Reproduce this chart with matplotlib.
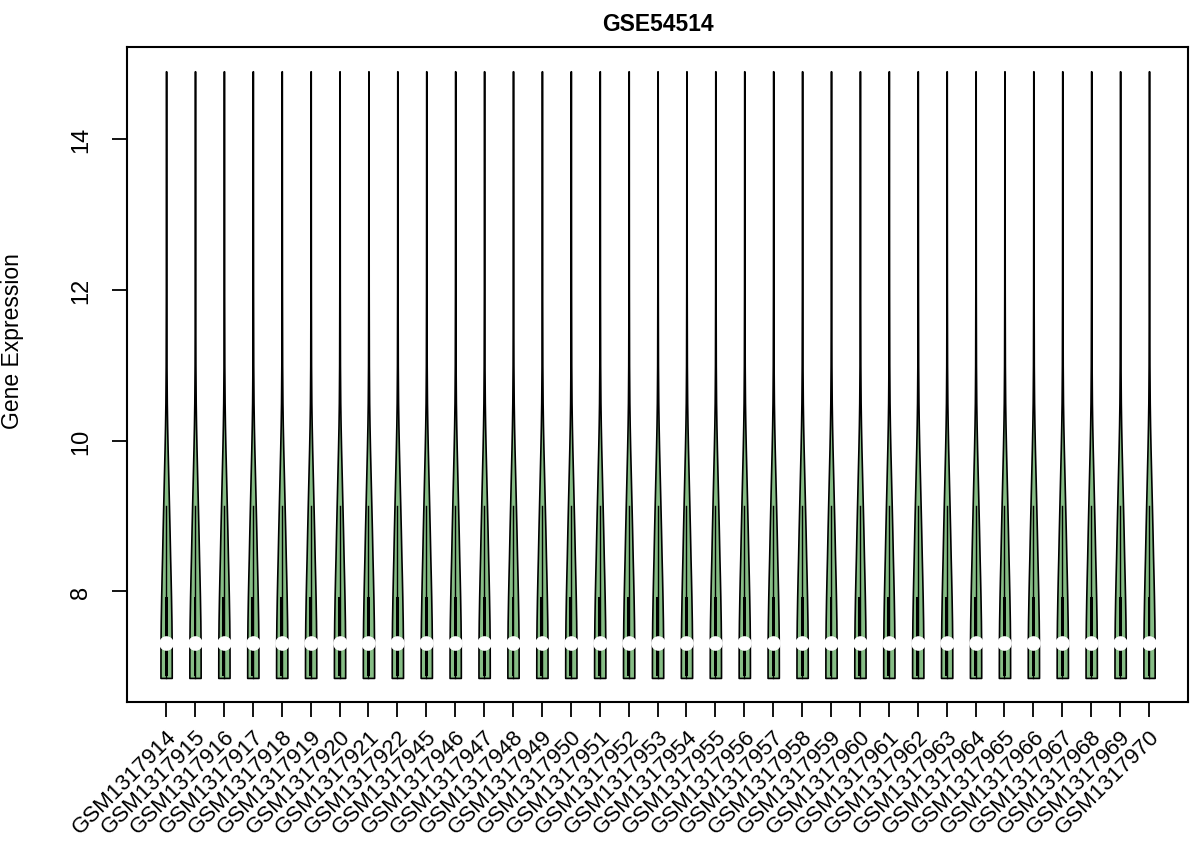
import matplotlib
matplotlib.use('Agg')
import matplotlib.pyplot as plt
from matplotlib.patches import Rectangle
import numpy as np

plt.rcParams['font.family'] = ['Liberation Sans', 'DejaVu Sans']

# sample names (GSE54514)
samples = ['GSM1317914', 'GSM1317915', 'GSM1317916', 'GSM1317917', 'GSM1317918',
           'GSM1317919', 'GSM1317920', 'GSM1317921', 'GSM1317922', 'GSM1317945',
           'GSM1317946', 'GSM1317947', 'GSM1317948', 'GSM1317949', 'GSM1317950',
           'GSM1317951', 'GSM1317952', 'GSM1317953', 'GSM1317954', 'GSM1317955',
           'GSM1317956', 'GSM1317957', 'GSM1317958', 'GSM1317959', 'GSM1317960',
           'GSM1317961', 'GSM1317962', 'GSM1317963', 'GSM1317964', 'GSM1317965',
           'GSM1317966', 'GSM1317967', 'GSM1317968', 'GSM1317969', 'GSM1317970']

# density profile (normalised data -> same for every sample)
dens_y = [6.85, 7.0, 7.3, 7.6, 7.93, 8.2, 8.44, 8.8, 9.13, 9.5, 9.9, 10.2,
          10.5, 11.0, 12.0, 13.0, 14.0, 14.9]
dens_w = [0.195, 0.195, 0.193, 0.185, 0.17, 0.155, 0.14, 0.12, 0.1, 0.077, 0.052,
          0.036, 0.024, 0.014, 0.008, 0.006, 0.005, 0.004]

# summary stats
q1 = [6.87] * len(samples)
q3 = [7.93] * len(samples)
med = [7.31] * len(samples)
wlo = [6.85] * len(samples)
whi = [9.13] * len(samples)

yticks = [8, 10, 12, 14]

fig = plt.figure(figsize=(11.96, 8.45), dpi=100)
ax = fig.add_axes([0.106, 0.168, 0.8876, 0.775])

n = len(samples)
pos = np.arange(1, n + 1)
y = np.array(dens_y)
w = np.array(dens_w)
for i in range(n):
    ax.fill_betweenx(y, pos[i] - w, pos[i] + w, facecolor='#86bd85',
                     edgecolor='black', linewidth=1.2, zorder=2)
    ax.plot([pos[i], pos[i]], [wlo[i], whi[i]], color='black', lw=1.0, zorder=3)
    ax.add_patch(Rectangle((pos[i] - 0.05, q1[i]), 0.1, q3[i] - q1[i],
                           facecolor='black', edgecolor='none', zorder=3))
    ax.plot(pos[i], med[i], 'o', color='white', markersize=9.5, zorder=4)

ax.set_xlim(1 - 0.04 * (n - 1), n + 0.04 * (n - 1))
ax.set_ylim(6.53, 15.22)

ax.set_xticks(pos)
ax.set_xticklabels(samples, rotation=45, ha='right', va='top',
                   rotation_mode='anchor', fontsize=16)
ax.set_yticks(yticks)
ax.set_yticklabels([str(t) for t in yticks], rotation=90, va='center', fontsize=17)
ax.tick_params(axis='both', length=11, width=1.3, direction='out')
ax.tick_params(axis='y', pad=14)
ax.tick_params(axis='x', pad=6)

for s in ax.spines.values():
    s.set_linewidth(1.5)

ax.set_ylabel('Gene Expression', fontsize=16.5)
ax.yaxis.set_label_coords(-0.097, 0.553)
ax.set_title('GSE54514', fontsize=16.5, fontweight='bold', pad=12)

fig.savefig('out.png', dpi=100)
